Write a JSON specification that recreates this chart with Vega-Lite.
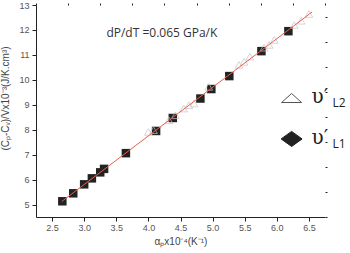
{
  "$schema": "https://vega.github.io/schema/vega-lite/v6.json",
  "width": 289,
  "height": 212,
  "autosize": "none",
  "padding": {"left": 36, "top": 5, "right": 25, "bottom": 36},
  "background": "white",
  "config": {
    "view": {"stroke": null},
    "axis": {
      "grid": false,
      "domainColor": "#222",
      "tickColor": "#222",
      "labelColor": "#555",
      "labelFont": "Liberation Sans",
      "labelFontSize": 9,
      "titleFont": "Liberation Sans",
      "titleFontSize": 10,
      "titleFontWeight": "normal",
      "titleColor": "#444"
    }
  },
  "datasets": {
    "pts": [
      {"s": "L1", "x": 2.66, "y": 5.13},
      {"s": "L1", "x": 2.83, "y": 5.45},
      {"s": "L1", "x": 3.0, "y": 5.81},
      {"s": "L1", "x": 3.12, "y": 6.05},
      {"s": "L1", "x": 3.25, "y": 6.29},
      {"s": "L1", "x": 3.31, "y": 6.43},
      {"s": "L1", "x": 3.65, "y": 7.06},
      {"s": "L1", "x": 4.12, "y": 7.95},
      {"s": "L1", "x": 4.38, "y": 8.47},
      {"s": "L1", "x": 4.81, "y": 9.25},
      {"s": "L1", "x": 4.98, "y": 9.63},
      {"s": "L1", "x": 5.26, "y": 10.15},
      {"s": "L1", "x": 5.76, "y": 11.15},
      {"s": "L1", "x": 6.18, "y": 11.95},
      {"s": "L2", "x": 4.0, "y": 7.91},
      {"s": "L2", "x": 4.08, "y": 7.98},
      {"s": "L2", "x": 4.32, "y": 8.38},
      {"s": "L2", "x": 4.42, "y": 8.58},
      {"s": "L2", "x": 4.55, "y": 8.85},
      {"s": "L2", "x": 4.63, "y": 8.98},
      {"s": "L2", "x": 4.71, "y": 9.05},
      {"s": "L2", "x": 4.94, "y": 9.72},
      {"s": "L2", "x": 5.41, "y": 10.6},
      {"s": "L2", "x": 5.49, "y": 10.72},
      {"s": "L2", "x": 5.58, "y": 10.93},
      {"s": "L2", "x": 5.8, "y": 11.29},
      {"s": "L2", "x": 5.88, "y": 11.4},
      {"s": "L2", "x": 5.96, "y": 11.6},
      {"s": "L2", "x": 6.27, "y": 12.2},
      {"s": "L2", "x": 6.38, "y": 12.37},
      {"s": "L2", "x": 6.5, "y": 12.64}
    ],
    "fit": [
      {"x": 2.65, "y": 5.12},
      {"x": 6.55, "y": 12.72}
    ],
    "legend": [
      {"s": "L2", "x": 6.23, "y": 9.27, "sym": "M-1,0.45L0,-0.45L1,0.45Z", "lbl": "υ′", "sub": "L2"},
      {"s": "L1", "x": 6.23, "y": 7.63, "sym": "M-1,0L0,-0.72L1,0L0,0.72Z", "lbl": "υ′", "sub": "L1"}
    ],
    "note": [
      {"x": 4.21, "y": 11.88, "t": "dP/dT =0.065 GPa/K"}
    ]
  },
  "resolve": {"axis": {"x": "independent", "y": "independent"}},
  "layer": [
    {
      "data": {"name": "pts"},
      "transform": [{"filter": "datum.s === 'L1'"}],
      "mark": {"type": "square", "filled": true, "color": "#222", "size": 72, "opacity": 1},
      "encoding": {
        "x": {"field": "x", "type": "quantitative", "scale": {"domain": [2.25, 6.75], "nice": false, "zero": false},
          "axis": {"values": [2.5, 3.0, 3.5, 4.0, 4.5, 5.0, 5.5, 6.0, 6.5], "format": ".1f", "tickSize": 4, "labelPadding": 2,
            "title": "αₚx10⁻⁴(K⁻¹)", "titlePadding": 4}},
        "y": {"field": "y", "type": "quantitative", "scale": {"domain": [4.5, 13], "nice": false, "zero": false},
          "axis": {"values": [5, 6, 7, 8, 9, 10, 11, 12, 13], "tickSize": 4, "labelPadding": 3,
            "title": "(Cₚ-Cᵥ)/Vx10⁻³(J/K.cm³)", "titlePadding": 8, "titleY": 93}}
      }
    },
    {
      "data": {"name": "pts"},
      "transform": [{"filter": "datum.s === 'L2'"}],
      "mark": {"type": "point", "shape": "triangle-up", "filled": false, "stroke": "#c9c2c9", "strokeWidth": 1, "size": 60},
      "encoding": {
        "x": {"field": "x", "type": "quantitative", "axis": null},
        "y": {"field": "y", "type": "quantitative", "axis": null}
      }
    },
    {
      "data": {"name": "fit"},
      "mark": {"type": "line", "color": "#e8604c", "strokeWidth": 1},
      "encoding": {
        "x": {"field": "x", "type": "quantitative",
          "axis": {"values": [2.25, 2.75, 3.25, 3.75, 4.25, 4.75, 5.25, 5.75, 6.25, 6.75], "labels": false, "tickSize": 2, "domain": false, "title": null}},
        "y": {"field": "y", "type": "quantitative",
          "axis": {"values": [4.5, 5.5, 6.5, 7.5, 8.5, 9.5, 10.5, 11.5, 12.5], "labels": false, "tickSize": 2, "domain": false, "title": null}}
      }
    },
    {
      "data": {"name": "note"},
      "mark": {"type": "text", "font": "Open Sans", "fontSize": 12, "color": "#333", "align": "center", "baseline": "middle"},
      "encoding": {
        "x": {"field": "x", "type": "quantitative", "axis": null},
        "y": {"field": "y", "type": "quantitative", "axis": null},
        "text": {"field": "t"}
      }
    },
    {
      "data": {"name": "legend"},
      "mark": {"type": "point", "filled": true, "opacity": 1, "strokeWidth": 1},
      "encoding": {
        "x": {"field": "x", "type": "quantitative", "axis": null},
        "y": {"field": "y", "type": "quantitative", "axis": null},
        "shape": {"field": "sym", "type": "nominal", "scale": null, "legend": null},
        "size": {"condition": {"test": "datum.s === 'L2'", "value": 400}, "value": 440},
        "fill": {"condition": {"test": "datum.s === 'L2'", "value": "transparent"}, "value": "#222"},
        "stroke": {"condition": {"test": "datum.s === 'L2'", "value": "#555"}, "value": "#222"}
      }
    },
    {
      "data": {"name": "legend"},
      "mark": {"type": "text", "font": "DejaVu Serif", "fontSize": 20, "color": "#222", "align": "left", "baseline": "middle", "dx": 20, "dy": -1},
      "encoding": {
        "x": {"field": "x", "type": "quantitative", "axis": null},
        "y": {"field": "y", "type": "quantitative", "axis": null},
        "text": {"field": "lbl"}
      }
    },
    {
      "data": {"name": "legend"},
      "mark": {"type": "text", "font": "Open Sans", "fontSize": 12, "color": "#222", "align": "left", "baseline": "middle", "dx": 41, "dy": 5},
      "encoding": {
        "x": {"field": "x", "type": "quantitative", "axis": null},
        "y": {"field": "y", "type": "quantitative", "axis": null},
        "text": {"field": "sub"}
      }
    }
  ]
}
